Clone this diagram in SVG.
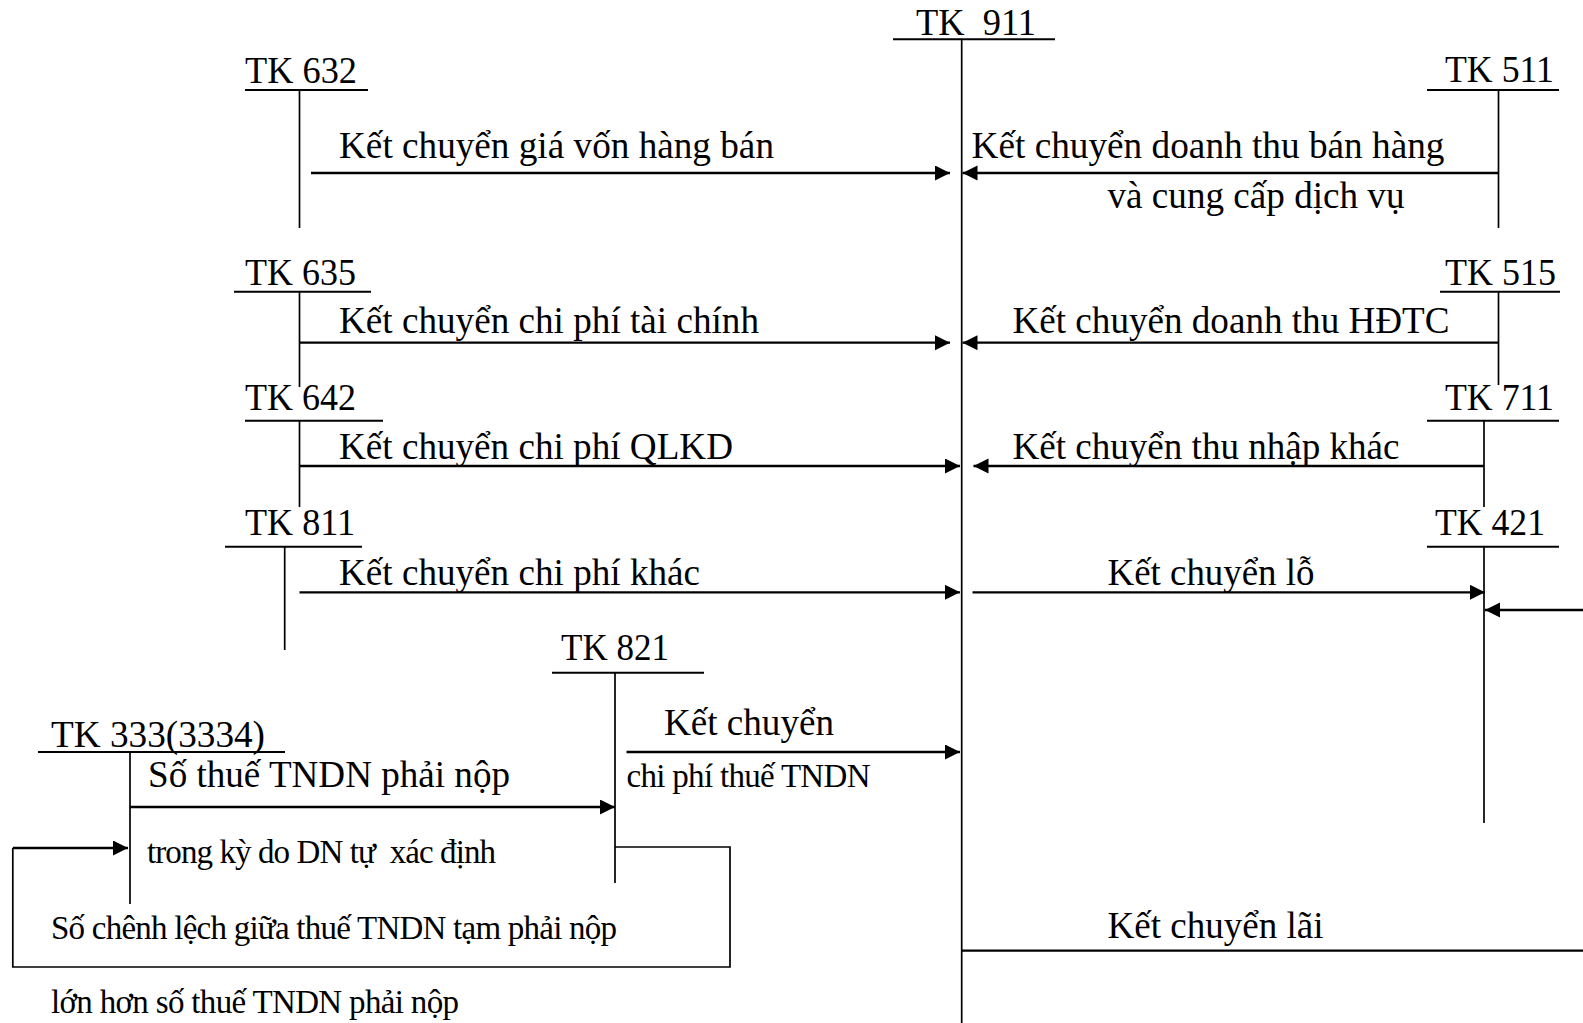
<svg xmlns="http://www.w3.org/2000/svg" width="1583" height="1023" viewBox="0 0 1583 1023">
<style>
text{font-family:"Liberation Serif","Times New Roman",serif;font-size:37px;fill:#000;white-space:pre}
.c{font-size:33px}
.ul{stroke:#000;stroke-width:2;fill:none}
.vl{stroke:#000;stroke-width:1.7;fill:none}
.ar{stroke:#000;stroke-width:2.3;fill:none}
</style>
<defs>
<marker id="ah" markerUnits="userSpaceOnUse" markerWidth="16" markerHeight="16" refX="15" refY="7.5" orient="auto">
<path d="M0,0 L15,7.5 L0,15 z" fill="#000"/>
</marker>
</defs>
<rect width="1583" height="1023" fill="#fff"/>

<g id="tk911"><text x="916" y="35" xml:space="preserve" textLength="120" lengthAdjust="spacingAndGlyphs">TK  911</text><line class="ul" x1="893" y1="39.3" x2="1055" y2="39.3"/><line class="vl" x1="961.7" y1="39" x2="961.7" y2="1023"/></g>
<g id="tk632"><text x="245" y="83" textLength="112" lengthAdjust="spacingAndGlyphs">TK 632</text><line class="ul" x1="245" y1="90" x2="368" y2="90"/><line class="vl" x1="299.5" y1="90" x2="299.5" y2="228"/></g>
<g id="tk635"><text x="245" y="285" textLength="111" lengthAdjust="spacingAndGlyphs">TK 635</text><line class="ul" x1="234" y1="291.7" x2="371" y2="291.7"/><line class="vl" x1="299.5" y1="292" x2="299.5" y2="387"/></g>
<g id="tk642"><text x="245" y="410" textLength="111" lengthAdjust="spacingAndGlyphs">TK 642</text><line class="ul" x1="245" y1="420.7" x2="383" y2="420.7"/><line class="vl" x1="299.5" y1="421" x2="299.5" y2="507"/></g>
<g id="tk811"><text x="245" y="535" textLength="110" lengthAdjust="spacingAndGlyphs">TK 811</text><line class="ul" x1="225" y1="546.7" x2="362" y2="546.7"/><line class="vl" x1="284.7" y1="547" x2="284.7" y2="650"/></g>
<g id="tk821"><text x="561" y="660" textLength="108" lengthAdjust="spacingAndGlyphs">TK 821</text><line class="ul" x1="552" y1="672.7" x2="704" y2="672.7"/><line class="vl" x1="615" y1="673" x2="615" y2="883"/></g>
<g id="tk333"><text x="51" y="747" textLength="214" lengthAdjust="spacingAndGlyphs">TK 333(3334)</text><line class="ul" x1="38" y1="752" x2="285" y2="752"/><line class="vl" x1="130" y1="752" x2="130" y2="904"/></g>
<g id="tk511"><text x="1445" y="82" textLength="109" lengthAdjust="spacingAndGlyphs">TK 511</text><line class="ul" x1="1427" y1="90" x2="1559" y2="90"/><line class="vl" x1="1498.5" y1="90" x2="1498.5" y2="228"/></g>
<g id="tk515"><text x="1445" y="285" textLength="111" lengthAdjust="spacingAndGlyphs">TK 515</text><line class="ul" x1="1440" y1="291.7" x2="1560" y2="291.7"/><line class="vl" x1="1498.5" y1="292" x2="1498.5" y2="385"/></g>
<g id="tk711"><text x="1445" y="410" textLength="109" lengthAdjust="spacingAndGlyphs">TK 711</text><line class="ul" x1="1427" y1="420.7" x2="1559" y2="420.7"/><line class="vl" x1="1484" y1="421" x2="1484" y2="507"/></g>
<g id="tk421"><text x="1435" y="535" textLength="110" lengthAdjust="spacingAndGlyphs">TK 421</text><line class="ul" x1="1427" y1="546.7" x2="1559" y2="546.7"/><line class="vl" x1="1484" y1="547" x2="1484" y2="823"/></g>

<g id="connectors">
<path class="ar" d="M311,173 H950" marker-end="url(#ah)"/>
<path class="ar" d="M1498.5,173 H962.5" marker-end="url(#ah)"/>
<path class="ar" d="M299.5,342.7 H950" marker-end="url(#ah)"/>
<path class="ar" d="M1498.5,342.7 H962.5" marker-end="url(#ah)"/>
<path class="ar" d="M299.5,466 H960" marker-end="url(#ah)"/>
<path class="ar" d="M1484,466 H973.5" marker-end="url(#ah)"/>
<path class="ar" d="M299.5,592.3 H960" marker-end="url(#ah)"/>
<path class="ar" d="M972.5,592.3 H1485" marker-end="url(#ah)"/>
<path class="ar" d="M1583,610 H1485" marker-end="url(#ah)"/>
<path class="ar" d="M626.5,752 H960" marker-end="url(#ah)"/>
<path class="ar" d="M130,807 H615" marker-end="url(#ah)"/>
<path class="vl" d="M615,847 H730 V967 H12.8 V848"/>
<path class="ar" d="M12.8,848 H128" marker-end="url(#ah)"/>
<path class="ar" d="M962,950.7 H1583"/>

<text x="339" y="158" textLength="435" lengthAdjust="spacingAndGlyphs">Kết chuyển giá vốn hàng bán</text>
<text x="971.5" y="158" textLength="473" lengthAdjust="spacingAndGlyphs">Kết chuyển doanh thu bán hàng</text>
<text x="1107.5" y="208" textLength="297" lengthAdjust="spacingAndGlyphs">và cung cấp dịch vụ</text>
<text x="339" y="333" textLength="420" lengthAdjust="spacingAndGlyphs">Kết chuyển chi phí tài chính</text>
<text x="1012.5" y="333" textLength="437" lengthAdjust="spacingAndGlyphs">Kết chuyển doanh thu HĐTC</text>
<text x="339" y="459" textLength="394" lengthAdjust="spacingAndGlyphs">Kết chuyển chi phí QLKD</text>
<text x="1012.5" y="459" textLength="387" lengthAdjust="spacingAndGlyphs">Kết chuyển thu nhập khác</text>
<text x="339" y="585" textLength="361" lengthAdjust="spacingAndGlyphs">Kết chuyển chi phí khác</text>
<text x="1107.5" y="585" textLength="207" lengthAdjust="spacingAndGlyphs">Kết chuyển lỗ</text>
<text x="664" y="735" textLength="170" lengthAdjust="spacingAndGlyphs">Kết chuyển</text>
<text class="c" x="626.5" y="787" textLength="244" lengthAdjust="spacing">chi phí thuế TNDN</text>
<text x="148" y="787" textLength="362" lengthAdjust="spacingAndGlyphs">Số thuế TNDN phải nộp</text>
<text class="c" x="147" y="863" textLength="349" lengthAdjust="spacing" xml:space="preserve">trong kỳ do DN tự  xác định</text>
<text class="c" x="51" y="939" textLength="566" lengthAdjust="spacing">Số chênh lệch giữa thuế TNDN tạm phải nộp</text>
<text class="c" x="51" y="1013" textLength="408" lengthAdjust="spacing">lớn hơn số thuế TNDN phải nộp</text>
<text x="1107.5" y="938" textLength="216" lengthAdjust="spacingAndGlyphs">Kết chuyển lãi</text>
</g>
</svg>
